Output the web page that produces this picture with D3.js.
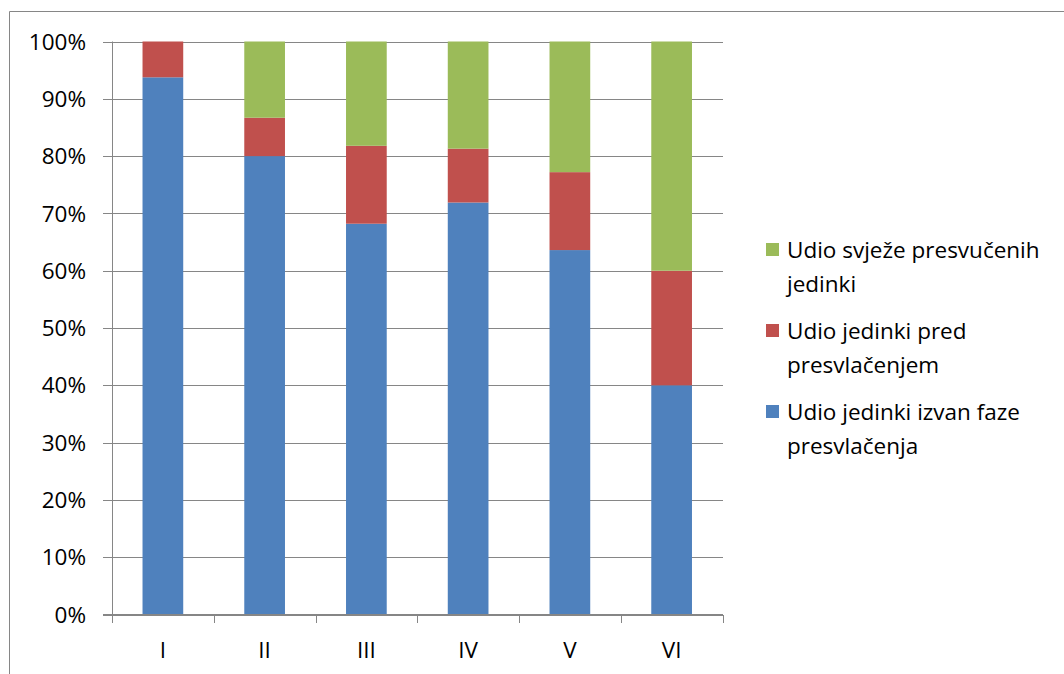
<!DOCTYPE html>
<html lang="hr">
<head>
  <meta charset="UTF-8">
  <script src="https://d3js.org/d3.v7.min.js"></script>
  <title>Udio jedinki</title>
  <style>
    body { margin: 0; background: #fff; }
    svg text { font-family: "Open Sans", Lato, sans-serif; fill: #000; font-size: 22.5px; }
    .grid line, .axis line, .axis path { stroke: #868686; stroke-width: 1; shape-rendering: crispEdges; }
  </style>
</head>
<body>
  <svg></svg>
  <script>
    const categories = ['I', 'II', 'III', 'IV', 'V', 'VI']
    // values in percent
    const izvanFaze = [93.75, 80.0, 68.2, 71.9, 63.6, 40.0]
    const predPresvlacenjem = [6.25, 6.7, 13.6, 9.4, 13.6, 20.0]
    const svjezePresvuceni = [0.0, 13.3, 18.2, 18.7, 22.8, 40.0]
    const yTicks = [0, 10, 20, 30, 40, 50, 60, 70, 80, 90, 100]

    const series = [
      { key: 'izvan', name: ['Udio jedinki izvan faze', 'presvlačenja'], values: izvanFaze, color: '#4f81bd' },
      { key: 'pred', name: ['Udio jedinki pred', 'presvlačenjem'], values: predPresvlacenjem, color: '#c0504d' },
      { key: 'svjeze', name: ['Udio svježe presvučenih', 'jedinki'], values: svjezePresvuceni, color: '#9bbb59' }
    ]

    const WIDTH = 1064
    const HEIGHT = 674

    const svg = d3.select('svg')
      .attr('width', WIDTH)
      .attr('height', HEIGHT)

    // outer chart border (left and top visible)
    svg.append('path')
      .attr('d', 'M9.5,674V11.5H1064')
      .attr('fill', 'none')
      .attr('stroke', '#868686')

    const x = d3.scaleBand()
      .domain(categories)
      .range([112, 722.5])
      .paddingInner(0.6)
      .paddingOuter(0.3)

    const y = d3.scaleLinear()
      .domain([0, 100])
      .range([614.5, 41.5])

    // gridlines
    svg.append('g')
      .attr('class', 'grid')
      .selectAll('line')
      .data(yTicks)
      .enter().append('line')
      .attr('x1', 103)
      .attr('x2', 722.5)
      .attr('y1', (d) => Math.round(y(d)) + 0.5)
      .attr('y2', (d) => Math.round(y(d)) + 0.5)

    // y labels
    svg.append('g')
      .selectAll('text')
      .data(yTicks)
      .enter().append('text')
      .attr('x', 86)
      .attr('y', (d) => y(d))
      .attr('dy', '0.36em')
      .attr('text-anchor', 'end')
      .text((d) => d + '%')

    // stacked bars
    const rows = categories.map((c, i) => {
      const r = { cat: c }
      series.forEach((s) => { r[s.key] = s.values[i] })
      return r
    })
    const stack = d3.stack().keys(series.map((s) => s.key))(rows)

    svg.append('g')
      .selectAll('g')
      .data(stack)
      .enter().append('g')
      .attr('fill', (d, i) => series[i].color)
      .selectAll('rect')
      .data((d) => d)
      .enter().append('rect')
      .attr('x', (d) => x(d.data.cat))
      .attr('width', x.bandwidth())
      .attr('y', (d) => y(d[1]))
      .attr('height', (d) => y(d[0]) - y(d[1]))

    // y axis line
    svg.append('line')
      .attr('class', 'axis')
      .attr('x1', 112.5).attr('x2', 112.5)
      .attr('y1', y(100)).attr('y2', y(0))
      .attr('stroke', '#868686')

    // x axis with ticks at band boundaries
    const xAxis = svg.append('g').attr('class', 'axis')
    const boundaries = categories.map((c) => x(c) - x.step() * x.paddingInner() / 2).concat([722.5])
    xAxis.append('line')
      .attr('x1', 103).attr('x2', 722.5)
      .attr('y1', 614.5).attr('y2', 614.5)
    xAxis.selectAll('.tick')
      .data(boundaries)
      .enter().append('line')
      .attr('class', 'tick')
      .attr('x1', (d) => Math.round(d) + 0.5)
      .attr('x2', (d) => Math.round(d) + 0.5)
      .attr('y1', 614.5)
      .attr('y2', 622.5)
    svg.append('g')
      .selectAll('text')
      .data(categories)
      .enter().append('text')
      .attr('x', (d) => x(d) + x.bandwidth() / 2)
      .attr('y', 658)
      .attr('text-anchor', 'middle')
      .text((d) => d)

    // legend (reverse order, green on top)
    const legend = svg.append('g')
      .selectAll('g')
      .data(series.slice().reverse())
      .enter().append('g')
      .attr('transform', (d, i) => `translate(766, ${250 + i * 81})`)

    legend.append('rect')
      .attr('x', 0).attr('y', -7)
      .attr('width', 13).attr('height', 13)
      .attr('fill', (d) => d.color)

    legend.append('text')
      .selectAll('tspan')
      .data((d) => d.name)
      .enter().append('tspan')
      .attr('x', 21)
      .attr('y', (d, i) => i * 33.5)
      .attr('dy', '0.36em')
      .text((d) => d)
  </script>
</body>
</html>
